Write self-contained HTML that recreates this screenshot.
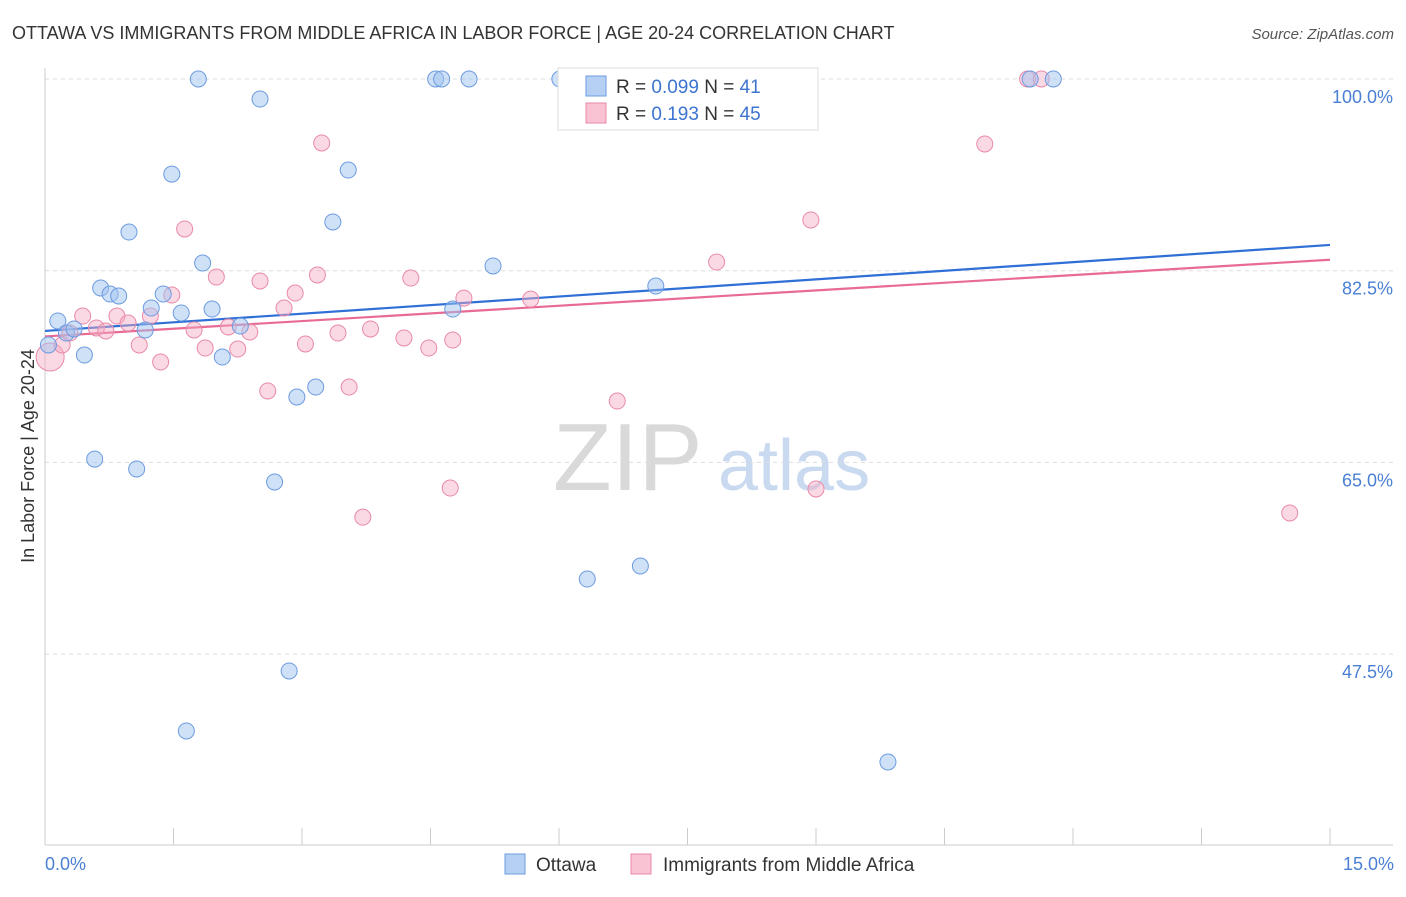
<!DOCTYPE html>
<html><head><meta charset="utf-8"><style>
body{margin:0;background:#fff;font-family:"Liberation Sans",sans-serif;}
svg text{font-family:"Liberation Sans",sans-serif;}
</style></head><body>
<svg id="chart" width="1406" height="892" viewBox="0 0 1406 892" xmlns="http://www.w3.org/2000/svg">
<text x="12" y="39" font-size="18" fill="#333">OTTAWA VS IMMIGRANTS FROM MIDDLE AFRICA IN LABOR FORCE | AGE 20-24 CORRELATION CHART</text>
<text x="1394" y="39" font-size="15" fill="#555" text-anchor="end" font-style="italic">Source: ZipAtlas.com</text>
<g>
<text x="553" y="490" font-size="96" fill="#d9d9d9" font-family="Liberation Serif">ZIP</text>
<text x="718" y="490" font-size="72" fill="#c9d9ef">atlas</text>
</g>
<g id="grid"></g>
<g id="axes"></g>
<g id="lines"></g>
<g id="pts"></g>
<text transform="translate(34,456) rotate(-90)" font-size="18" fill="#333" text-anchor="middle">In Labor Force | Age 20-24</text>
<text x="45" y="870" font-size="18" fill="#4a7fd4">0.0%</text>
<text x="1394" y="870" font-size="18" fill="#4a7fd4" text-anchor="end">15.0%</text>
<g>
<rect x="558" y="68" width="260" height="62" fill="#fff" stroke="#ddd"/>
<rect x="586" y="76" width="20" height="20" fill="#b5d0f3" stroke="#6d9be0"/>
<rect x="586" y="103" width="20" height="20" fill="#f9c3d3" stroke="#e98aa8"/>
<text x="616" y="93" font-size="19" fill="#333">R = <tspan fill="#3c74d0">0.099</tspan>   N = <tspan fill="#3c74d0">41</tspan></text>
<text x="616" y="120" font-size="19" fill="#333">R =  <tspan fill="#3c74d0">0.193</tspan>   N = <tspan fill="#3c74d0">45</tspan></text>
</g>
<g>
<rect x="505" y="854" width="20" height="20" fill="#b5d0f3" stroke="#6d9be0"/>
<text x="536" y="871" font-size="19" fill="#333">Ottawa</text>
<rect x="631" y="854" width="20" height="20" fill="#f9c3d3" stroke="#e98aa8"/>
<text x="663" y="871" font-size="19" fill="#333">Immigrants from Middle Africa</text>
</g>
</svg>
<script>
const yTicks=[100,82.5,65,47.5];
const yTickLabels=["100.0%","82.5%","65.0%","47.5%"];
const xTicks=[0,1.5,3,4.5,6,7.5,9,10.5,12,13.5,15];
const ottawaX=[0.04,0.15,0.25,0.34,0.46,0.58,0.65,0.76,0.86,0.98,1.07,1.17,1.24,1.38,1.48,1.59,1.79,1.84,1.95,2.07,2.28,2.51,2.68,2.85,1.65,2.94,3.16,3.36,3.54,4.56,4.63,4.95,4.76,5.23,6.01,6.33,6.95,7.13,9.84,11.50,11.77];
const ottawaY=[75.72,77.91,76.81,77.18,74.80,65.3,80.92,80.37,80.19,86.03,64.40,77.09,79.09,80.37,91.32,78.64,100,83.2,79.0,74.62,77.45,98.17,63.21,45.96,40.48,70.97,71.88,86.95,91.69,100,100,100,79.0,82.93,100,54.35,55.54,81.1,37.65,100,100];
const africaX=[0.06,0.20,0.29,0.44,0.60,0.71,0.84,0.97,1.10,1.23,1.35,1.48,1.63,1.74,1.87,2.00,2.14,2.25,2.39,2.51,2.60,2.79,2.92,3.04,3.18,3.23,3.42,3.55,3.71,3.80,4.19,4.27,4.48,4.73,4.76,4.89,5.67,6.68,7.84,8.94,9.00,10.97,11.47,11.63,14.53];
const africaY=[74.62,75.72,76.81,78.36,77.27,77.0,78.36,77.72,75.72,78.36,74.16,80.28,86.31,77.09,75.44,81.92,77.36,75.35,76.9,81.56,71.52,79.09,80.46,75.81,82.11,94.16,76.81,71.88,60.0,77.18,76.36,81.83,75.44,62.66,76.17,80.0,79.9,70.6,83.29,87.13,62.57,94.07,100,100,60.38];
const ottawaTrend=[77.0,84.85];
const africaTrend=[76.5,83.5];
const NS="http://www.w3.org/2000/svg";
const X=v=>45+v/15*1285;
const Y=v=>79+(100-v)*10.954;
function mk(t,a,p){const e=document.createElementNS(NS,t);for(const k in a)e.setAttribute(k,a[k]);p.appendChild(e);return e;}
const grid=document.getElementById('grid'),axes=document.getElementById('axes'),lines=document.getElementById('lines'),pts=document.getElementById('pts');
yTicks.forEach((v,i)=>{
 const l=mk('line',{x1:45,x2:1393,y1:Y(v),y2:Y(v),stroke:'#ddd','stroke-dasharray':'4,4'},grid);
 
 
 const t=mk('text',{x:1393,y:Y(v)+24,'font-size':18,fill:'#4a7fd4','text-anchor':'end'},grid);
 t.textContent=yTickLabels[i];
 
 
});
mk('line',{x1:45,x2:45,y1:68,y2:845,stroke:'#ccc'},axes);
mk('line',{x1:45,x2:1393,y1:845,y2:845,stroke:'#ccc'},axes);
xTicks.forEach(v=>{
 const l=mk('line',{x1:X(v),x2:X(v),y1:828,y2:845,stroke:'#ccc'},axes);
 
 
});
const lb=mk('line',{x1:X(0),x2:X(15),y1:Y(ottawaTrend[0]),y2:Y(ottawaTrend[1]),stroke:'#2f6fd6','stroke-width':2.2},lines);


const lp=mk('line',{x1:X(0),x2:X(15),y1:Y(africaTrend[0]),y2:Y(africaTrend[1]),stroke:'#e86b94','stroke-width':2.2},lines);


africaX.forEach((v,i)=>{
 const c=mk('circle',{cx:X(v),cy:Y(africaY[i]),r:i==0?14:8,fill:'rgba(245,170,195,0.45)',stroke:'#e98aa8','stroke-width':1},pts);
 
 
});
ottawaX.forEach((v,i)=>{
 const c=mk('circle',{cx:X(v),cy:Y(ottawaY[i]),r:8,fill:'rgba(160,195,240,0.5)',stroke:'#6d9be0','stroke-width':1},pts);
 
 
});
</script>
</body></html>
